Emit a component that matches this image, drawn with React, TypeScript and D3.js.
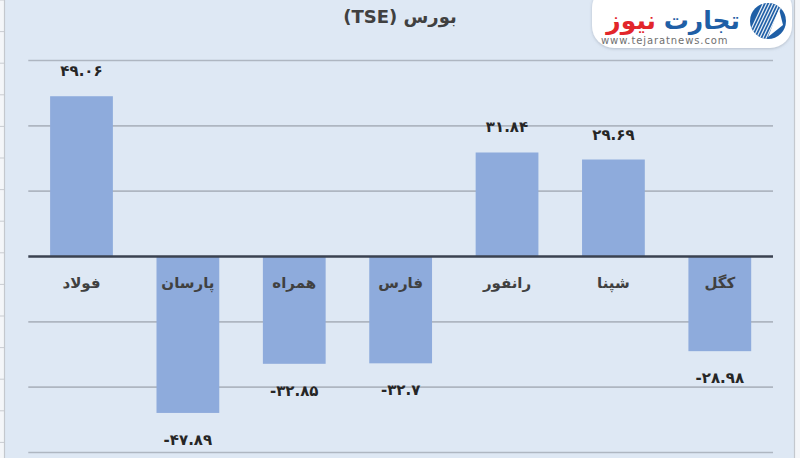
import React from "react";
import * as d3 from "d3";

const categories = ["فولاد", "پارسان", "همراه", "فارس", "رانفور", "شپنا", "کگل"];
const values = [49.06, -47.89, -32.85, -32.7, 31.84, 29.69, -28.98];
const labels = ["۴۹.۰۶", "-۴۷.۸۹", "-۳۲.۸۵", "-۳۲.۷", "۳۱.۸۴", "۲۹.۶۹", "-۲۸.۹۸"];
const gridTicks = [60, 40, 20, -20, -40, -60];
const title = "بورس (TSE)";

const W = 800;
const H = 458;
const FONT = "'DejaVu Sans', sans-serif";

export default function App() {
  const x = d3
    .scaleBand<string>()
    .domain(categories)
    .range([28.3, 773])
    .paddingInner(0.41)
    .paddingOuter(0.205);
  const y = d3.scaleLinear().domain([-60, 60]).range([452.5, 60.5]);
  const zero = y(0);

  const rowLines = d3.range(0, 15).map((i) => 0 + i * 31.6);

  return (
    <svg
      width={W}
      height={H}
      style={{ position: "fixed", left: 0, top: 0, display: "block" }}
      xmlns="http://www.w3.org/2000/svg"
    >
      <defs>
        <filter id="sh" x="-10%" y="-30%" width="120%" height="160%">
          <feDropShadow dx={0} dy={1} stdDeviation={1.5} floodColor="#8a94a3" floodOpacity={0.5} />
        </filter>
        <clipPath id="lc">
          <circle cx={768} cy={21} r={18} />
        </clipPath>
      </defs>
      <rect x={0} y={0} width={W} height={H} fill="#f4f6f9" />
      {rowLines.map((ry, i) => (
        <line key={"rl" + i} x1={0} x2={4} y1={ry} y2={ry} stroke="#c9ccd1" strokeWidth={1} />
      ))}
      <rect x={4.5} y={-2} width={790} height={H + 4} fill="#dee8f4" stroke="#c4c8ce" strokeWidth={1.2} />

      {/* gridlines */}
      {gridTicks.map((t) => (
        <line
          key={"g" + t}
          x1={28.3}
          x2={773}
          y1={y(t)}
          y2={y(t)}
          stroke="#aeb6c1"
          strokeWidth={1.7}
        />
      ))}

      {/* bars */}
      {values.map((v, i) => {
        const c = categories[i];
        const y0 = y(Math.max(0, v));
        const y1 = y(Math.min(0, v));
        return (
          <rect
            key={"b" + i}
            x={x(c)}
            y={y0}
            width={x.bandwidth()}
            height={y1 - y0}
            fill="#8eabdc"
          />
        );
      })}

      {/* zero axis */}
      <line x1={28.3} x2={773} y1={zero} y2={zero} stroke="#3a4250" strokeWidth={2.6} />

      {/* category labels */}
      {categories.map((c) => (
        <text
          key={"c" + c}
          x={(x(c) as number) + x.bandwidth() / 2}
          y={288}
          textAnchor="middle"
          fontFamily={FONT}
          fontWeight="bold"
          fontSize={15}
          fill="#404040"
          direction="rtl"
        >
          {c}
        </text>
      ))}

      {/* value labels */}
      {values.map((v, i) => {
        const c = categories[i];
        const cx = (x(c) as number) + x.bandwidth() / 2;
        const ly = v >= 0 ? y(v) - 20 : y(v) + 32;
        return (
          <text
            key={"v" + i}
            x={cx}
            y={ly}
            textAnchor="middle"
            fontFamily={FONT}
            fontWeight="bold"
            fontSize={15}
            fill="#262626"
            direction="ltr"
          >
            {labels[i]}
          </text>
        );
      })}

      {/* title */}
      <text
        x={400}
        y={23}
        textAnchor="middle"
        fontFamily={FONT}
        fontWeight="bold"
        fontSize={18}
        fill="#404040"
        direction="rtl"
      >
        {title}
      </text>

      {/* logo */}
      <g>
        <rect x={592} y={-14} width={200} height={62} rx={22} fill="#ffffff" filter="url(#sh)" />
        <circle cx={768} cy={21} r={22} fill="#ffffff" />
        <circle cx={768} cy={21} r={18} fill="#1f5fa6" />
        <g clipPath="url(#lc)">
          {d3.range(0, 7).map((k) => (
            <line
              key={"s" + k}
              x1={746 + k * 3.2}
              y1={40}
              x2={764 + k * 3.2}
              y2={2}
              stroke="#ffffff"
              strokeWidth={1.2}
              opacity={0.9}
            />
          ))}
          <path d="M768 37 L779 9 L783 25 Z" fill="#ffffff" />
        </g>
        <text x={740} y={29} textAnchor="start" fontFamily={FONT} fontWeight="bold" fontSize={25} fill="#1f5fa6" direction="rtl">
          تجارت
        </text>
        <text x={656} y={29} textAnchor="start" fontFamily={FONT} fontWeight="bold" fontSize={25} fill="#e2262b" direction="rtl">
          نیوز
        </text>
        <text x={601} y={44} fontFamily={FONT} fontSize={10} fill="#6f6f6f" letterSpacing={0.9}>
          www.tejaratnews.com
        </text>
      </g>
    </svg>
  );
}
